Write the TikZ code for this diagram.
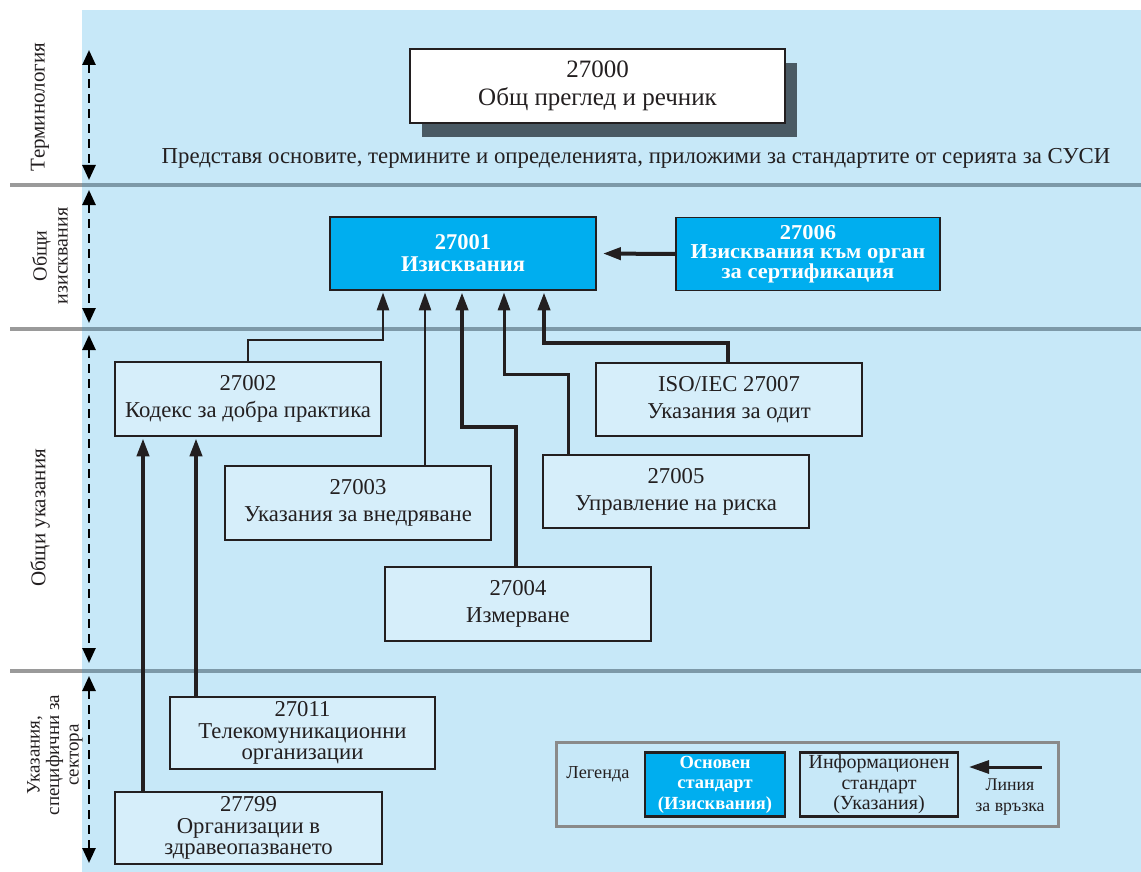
\documentclass[tikz,border=0pt]{standalone}
\usepackage{fontspec}
\setmainfont{Liberation Serif}
\newfontfamily\widebold{Liberation Serif}[FakeStretch=1.06]
\usetikzlibrary{arrows.meta,calc,shadows}
\definecolor{bgblue}{HTML}{C7E8F8}
\definecolor{boxfill}{HTML}{D6EEFA}
\definecolor{cyanfill}{HTML}{00AEEF}
\definecolor{sepgray}{HTML}{9A9A9A}
\definecolor{sepdark}{HTML}{7D99A8}
\definecolor{shadowc}{HTML}{4A5A64}
\definecolor{ink}{HTML}{231F20}
\definecolor{leggray}{HTML}{8A8A8A}
\tikzset{
  stdbox/.style={draw=ink, line width=1.8pt, fill=boxfill, text=ink, align=center, inner sep=0pt},
  reqbox/.style={draw=ink, line width=1.8pt, fill=cyanfill, text=white, align=center, inner sep=0pt},
  connthin/.style={draw=ink, line width=2.6pt, -{Triangle[length=18pt,width=12pt]}, shorten >=1.5pt},
  connthick/.style={draw=ink, line width=4pt, -{Triangle[length=18pt,width=12pt]}, shorten >=1.5pt},
  dasharrow/.style={draw=black, line width=2.6pt, dash pattern=on 9pt off 6pt, {Triangle[length=15pt,width=13pt]}-{Triangle[length=15pt,width=13pt]}},
  sidelabel/.style={rotate=90, text=ink, align=center, font=\fontsize{21}{21}\selectfont},
  twoline/.style={font=\fontsize{22.7}{27}\selectfont},
  threeline/.style={font=\fontsize{22.7}{21.5}\selectfont},
}
\begin{document}
\begin{tikzpicture}[x=1pt,y=-1pt]
\useasboundingbox (0,0) rectangle (1141,872);
\fill[bgblue] (82,10) rectangle (1141,872);
% separators
\foreach \yy in {185,329,671} {
  \draw[line width=4pt, sepgray] (10,\yy) -- (82,\yy);
  \draw[line width=4pt, sepdark] (82,\yy) -- (1141,\yy);
}
% dashed section arrows
\draw[dasharrow] (89,50) -- (89,180);
\draw[dasharrow] (89,190) -- (89,323);
\draw[dasharrow] (89,335) -- (89,663);
\draw[dasharrow] (89,676) -- (89,863);
% side labels
\node[sidelabel] (l1) at (40,107) {Терминология};
\node[sidelabel, font=\fontsize{20}{21}\selectfont] (l2) at (50,256) {Общи\\изисквания};
\node[sidelabel] (l3) at (40,518) {Общи указания};
\node[sidelabel, font=\fontsize{19}{19.5}\selectfont] (l4) at (55,755) {Указания,\\специфични за\\сектора};
% top box
\node[stdbox, fill=white, minimum width=375pt, minimum height=74pt, font=\fontsize{25}{28}\selectfont,
  drop shadow={shadow xshift=12pt, shadow yshift=-14pt, fill=shadowc, opacity=1}] (n27000) at (597.5,86) {27000\\Общ преглед и речник};
\node[text=ink, font=\fontsize{22.8}{24}\selectfont, inner sep=0pt] (desc) at (636,158) {Представя основите, термините и определенията, приложими за стандартите от серията за СУСИ};
% requirement boxes
\node[reqbox, minimum width=266pt, minimum height=73pt, font=\bfseries\fontsize{22.5}{22}\selectfont] (n27001) at (463,253.5) {27001\\Изисквания};
\node[reqbox, minimum width=264pt, minimum height=73pt, font=\widebold\bfseries\fontsize{21.2}{19.2}\selectfont] (n27006) at (808,254) {27006\\Изисквания към орган\\за сертификация};
% guidance boxes
\node[stdbox, minimum width=266pt, minimum height=74pt, twoline] (n27002) at (248,399) {27002\\Кодекс за добра практика};
\node[stdbox, minimum width=266pt, minimum height=74pt, twoline] (n27003) at (358,503) {27003\\Указания за внедряване};
\node[stdbox, minimum width=266pt, minimum height=74pt, twoline] (n27004) at (518,604) {27004\\Измерване};
\node[stdbox, minimum width=266pt, minimum height=73pt, twoline] (n27005) at (676,491.5) {27005\\Управление на риска};
\node[stdbox, minimum width=266pt, minimum height=73pt, twoline] (n27007) at (729,399.5) {ISO/IEC 27007\\Указания за одит};
\node[stdbox, minimum width=265pt, minimum height=72pt, threeline] (n27011) at (302.5,733) {27011\\Телекомуникационни\\организации};
\node[stdbox, minimum width=267pt, minimum height=72pt, threeline] (n27799) at (248.5,828) {27799\\Организации в\\здравеопазването};
% connectors
\draw[connthick, shorten >=6pt] (n27006.west) -- (n27001.east);
\draw[connthin] (n27002.north) |- (383,340) -- (383,0 |- n27001.south);
\draw[connthin] (425,0 |- n27003.north) -- (425,0 |- n27001.south);
\draw[connthick] (516,0 |- n27004.north) |- (462,427) -- (462,0 |- n27001.south);
\draw[connthin, line width=3pt] (568,0 |- n27005.north) |- (504,374) -- (504,0 |- n27001.south);
\draw[connthick] (728,0 |- n27007.north) |- (544,343) -- (544,0 |- n27001.south);
\draw[connthick] (196,0 |- n27011.north) -- (196,0 |- n27002.south);
\draw[connthick] (143,0 |- n27799.north) -- (143,0 |- n27002.south);
% legend
\node[draw=leggray, line width=3pt, fill=bgblue, minimum width=502pt, minimum height=84pt, inner sep=0pt] (legend) at (807,784) {};
\node[text=ink, font=\fontsize{18.3}{20}\selectfont] (legtitle) at (598,774) {Легенда};
\node[reqbox, line width=2.2pt, minimum width=140pt, minimum height=64pt, font=\bfseries\fontsize{18.5}{20.5}\selectfont] (legreq) at (715,784.5) {Основен\\стандарт\\(Изисквания)};
\node[stdbox, line width=2.2pt, fill=bgblue, minimum width=158pt, minimum height=64pt, font=\fontsize{20}{20.5}\selectfont] (leginfo) at (879,784.5) {Информационен\\стандарт\\(Указания)};
\coordinate (la1) at (1042,767);
\coordinate (la2) at (969,767);
\draw[draw=ink, line width=3pt, -{Triangle[length=20pt,width=13pt]}] (la1) -- (la2);
\node[text=ink, align=center, font=\fontsize{17.8}{21}\selectfont] (leglink) at (1010,797) {Линия\\за връзка};
\end{tikzpicture}
\end{document}
